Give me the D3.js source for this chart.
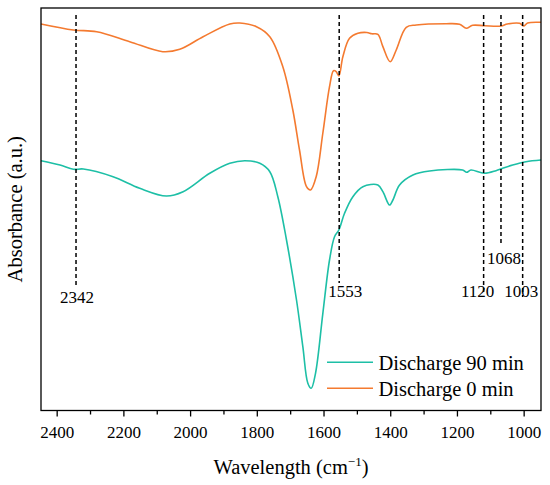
<!DOCTYPE html>
<html>
<head>
<meta charset="utf-8">
<script src="https://cdn.jsdelivr.net/npm/d3@7"></script>
<style>
  html, body { margin: 0; padding: 0; background: #fff; }
  svg text { font-family: "Liberation Serif", "Times New Roman", serif; fill: #000; }
</style>
</head>
<body>
<div id="chart"></div>
<script>
// ---- Data (wavenumber in cm^-1, absorbance in arbitrary units) ----
const wavenumbers0 = [2447, 2350, 2280, 2181, 2082, 2031, 1961, 1881, 1851, 1801, 1761, 1722, 1692, 1672, 1651, 1639, 1622, 1602, 1582, 1570, 1562, 1554, 1542, 1522, 1497, 1470, 1455, 1437, 1422, 1400, 1382, 1352, 1322, 1232, 1192, 1172, 1153, 1117, 1068, 1049, 1012, 1000, 988, 948];
const absorbance0 = [3.86, 3.80, 3.783, 3.683, 3.583, 3.607, 3.733, 3.86, 3.87, 3.833, 3.733, 3.433, 3.00, 2.60, 2.233, 2.20, 2.333, 2.77, 3.233, 3.393, 3.383, 3.34, 3.533, 3.717, 3.767, 3.775, 3.762, 3.757, 3.633, 3.483, 3.60, 3.827, 3.85, 3.863, 3.857, 3.817, 3.847, 3.843, 3.84, 3.86, 3.867, 3.84, 3.87, 3.877];

const wavenumbers90 = [2447, 2390, 2350, 2320, 2231, 2151, 2071, 2021, 1941, 1881, 1836, 1791, 1761, 1737, 1711, 1681, 1662, 1647, 1637, 1624, 1602, 1582, 1567, 1554, 1537, 1512, 1482, 1437, 1422, 1402, 1392, 1372, 1332, 1282, 1183, 1171, 1158, 1118, 1083, 1063, 1033, 993, 948];
const absorbance90 = [2.493, 2.45, 2.407, 2.41, 2.333, 2.217, 2.14, 2.183, 2.367, 2.467, 2.493, 2.467, 2.383, 2.133, 1.70, 1.10, 0.633, 0.267, 0.217, 0.367, 0.967, 1.50, 1.733, 1.80, 1.967, 2.133, 2.233, 2.25, 2.183, 2.05, 2.10, 2.25, 2.35, 2.39, 2.40, 2.377, 2.40, 2.367, 2.393, 2.417, 2.45, 2.483, 2.50];

const seriesNames = ["Discharge 90 min", "Discharge 0 min"];
const peakLabels = ["2342", "1553", "1120", "1068", "1003"];
const peakPositions = [2342, 1553, 1120, 1068, 1003];
const xTickValues = [2400, 2200, 2000, 1800, 1600, 1400, 1200, 1000];
const xMinorTickValues = [2300, 2100, 1900, 1700, 1500, 1300, 1100];

// ---- Layout / style ----
const W = 550, H = 485;
const margin = { left: 41, right: 9, top: 8, bottom: 74.5 };
const colors = { "Discharge 90 min": "#1dbfa6", "Discharge 0 min": "#f47a30" };

const svg = d3.select("#chart").append("svg").attr("width", W).attr("height", H);

const x = d3.scaleLinear().domain([2447, 948]).range([margin.left, W - margin.right]);
const y = d3.scaleLinear().domain([0, 4.02]).range([410, margin.top]);

const series = [
  { name: seriesNames[0], pts: wavenumbers90.map((w, i) => [w, absorbance90[i]]) },
  { name: seriesNames[1], pts: wavenumbers0.map((w, i) => [w, absorbance0[i]]) }
];

const line = d3.line().x(d => x(d[0])).y(d => y(d[1])).curve(d3.curveCatmullRom.alpha(0.5));

series.forEach(s => {
  svg.append("path").datum(s.pts)
    .attr("d", line).attr("fill", "none")
    .attr("stroke", colors[s.name]).attr("stroke-width", 1.6)
    .attr("stroke-linejoin", "round");
});

// dashed peak markers
const peakBottom = { "2342": 287, "1553": 283, "1120": 293, "1068": 245, "1003": 297 };
const labelDx = { "2342": 1, "1553": 6, "1120": -6, "1068": 3, "1003": -1.5 };
const labelY = { "2342": 303, "1553": 297, "1120": 297, "1068": 264, "1003": 297 };
peakPositions.forEach((p, i) => {
  const lab = peakLabels[i];
  svg.append("line")
    .attr("x1", x(p)).attr("x2", x(p))
    .attr("y1", 15).attr("y2", peakBottom[lab])
    .attr("stroke", "#000").attr("stroke-width", 1.5)
    .attr("stroke-dasharray", "4,3");
  svg.append("text")
    .attr("x", x(p) + labelDx[lab]).attr("y", labelY[lab])
    .attr("text-anchor", "middle").attr("font-size", 17)
    .text(lab);
});

// frame
const plotBottom = H - margin.bottom;
svg.append("rect")
  .attr("x", margin.left).attr("y", margin.top)
  .attr("width", W - margin.left - margin.right)
  .attr("height", plotBottom - margin.top)
  .attr("fill", "none").attr("stroke", "#000").attr("stroke-width", 1.3);

// x axis
const xAxis = svg.append("g").attr("transform", `translate(0,${plotBottom})`)
  .call(d3.axisBottom(x).tickValues(xTickValues).tickSize(6).tickPadding(9.5).tickFormat(d3.format("d")));
xAxis.select(".domain").remove();
xAxis.selectAll(".tick line").attr("stroke", "#000").attr("stroke-width", 1.3);
xAxis.selectAll(".tick text").attr("font-size", 17).attr("font-family", "Liberation Serif, serif");

const xMinor = svg.append("g").attr("transform", `translate(0,${plotBottom})`)
  .call(d3.axisBottom(x).tickValues(xMinorTickValues).tickSize(4).tickFormat(""));
xMinor.select(".domain").remove();
xMinor.selectAll(".tick line").attr("stroke", "#000").attr("stroke-width", 1.3);

// axis titles
const xt = svg.append("text")
  .attr("x", (margin.left + W - margin.right) / 2).attr("y", 473.5)
  .attr("text-anchor", "middle").attr("font-size", 20.5);
xt.append("tspan").text("Wavelength (cm");
xt.append("tspan").attr("font-size", 13).attr("dy", -8).text("\u22121");
xt.append("tspan").attr("dy", 8).text(")");

svg.append("text")
  .attr("transform", `translate(22,${(margin.top + plotBottom) / 2}) rotate(-90)`)
  .attr("text-anchor", "middle").attr("font-size", 20.5)
  .text("Absorbance (a.u.)");

// legend
const legend = svg.append("g");
seriesNames.forEach((n, i) => {
  const ly = 362.3 + i * 26;
  legend.append("line").attr("x1", 327).attr("x2", 373).attr("y1", ly).attr("y2", ly)
    .attr("stroke", colors[n]).attr("stroke-width", 1.6);
  legend.append("text").attr("x", 378.5).attr("y", ly + 7.5).attr("font-size", 20.5).text(n);
});
</script>
</body>
</html>
